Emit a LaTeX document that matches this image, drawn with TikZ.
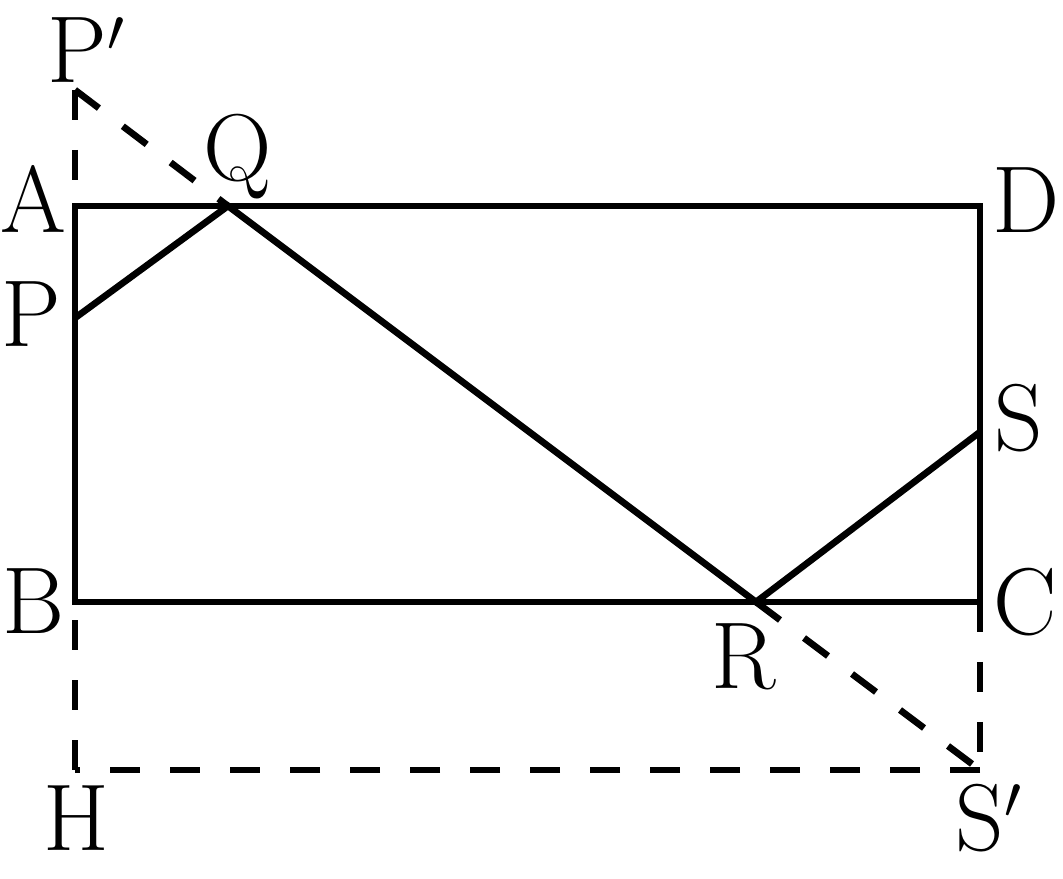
\documentclass[tikz,border=0pt]{standalone}
\usepackage{tikz}
\usetikzlibrary{calc}

\begin{document}
\begin{tikzpicture}[
	solidline/.style={line width=1.9pt},
	dashline/.style={line width=1.9pt, dash pattern=on 0.3cm off 0.3cm},
	lbl/.style={inner sep=0pt, anchor=base, font=\fontsize{27}{32}\selectfont}]
			%%%%% START %%%%%
			
			\useasboundingbox (0, 0) rectangle (10.63, 8.78);
			
			\coordinate (A) at (0.75, 6.72);
			\coordinate (D) at (9.80, 6.72);
			\coordinate (B) at (0.75, 2.76);
			\coordinate (C) at (9.80, 2.76);
			\coordinate (P) at (0.75, 5.60);
			\coordinate (Q) at (2.28, 6.72);
			\coordinate (R) at (7.56, 2.76);
			\coordinate (S) at (9.80, 4.46);
			\coordinate (Pp) at (0.75, 7.88);
			\coordinate (Sp) at (9.80, 1.08);
			\coordinate (H) at (0.75, 1.08);
			
			\draw[dashline] (Pp) -- (A);
			\draw[dashline] (Pp) -- (Q);
			\draw[dashline] (R) -- (Sp);
			\draw[dashline] (C) -- (Sp);
			\draw[dashline] (Sp) -- (H);
			\draw[dashline] (H) -- (B);
			
			\draw[solidline] (A) -- (D) -- (C) -- (B) -- cycle;
			\draw[solidline] (P) -- (Q) -- (R) -- (S);
			
			\node[lbl, anchor=base west] (lPp) at (0.47, 7.95) {P$'$};
			\node[lbl] (lQ) at (2.38, 6.97) {Q};
			\node[lbl] (lA) at (0.33, 6.45) {A};
			\node[lbl] (lP) at (0.31, 5.31) {P};
			\node[lbl] (lD) at (10.26, 6.45) {D};
			\node[lbl] (lS) at (10.19, 4.27) {S};
			\node[lbl] (lB) at (0.34, 2.44) {B};
			\node[lbl] (lC) at (10.25, 2.43) {C};
			\node[lbl] (lR) at (7.44, 1.89) {R};
			\node[lbl] (lH) at (0.76, 0.28) {H};
			\node[lbl, anchor=base west] (lSp) at (9.55, 0.28) {S$'$};
			
			%%%%% END %%%%%
		\end{tikzpicture}
\end{document}
